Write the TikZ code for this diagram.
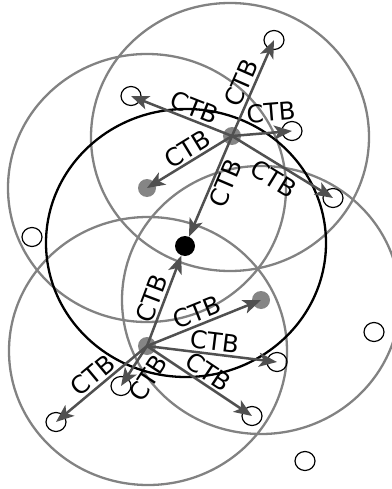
\documentclass[tikz,border=0pt]{standalone}
\usepackage{fontspec}
\setmainfont{DejaVu Sans}
\usetikzlibrary{arrows.meta,shapes.geometric}
\definecolor{ringgray}{HTML}{828282}
\definecolor{arrgray}{HTML}{505050}
\definecolor{dotgray}{HTML}{858585}
\begin{document}
\begin{tikzpicture}[x=1pt,y=-1pt,
  ring/.style={draw=ringgray,line width=2.3pt},
  blackring/.style={draw=black,line width=2.3pt},
  hollow/.style={draw=black,line width=1.2pt,ellipse,minimum width=20pt,minimum height=19pt,inner sep=0pt},
  graydot/.style={fill=dotgray,circle,minimum size=18pt,inner sep=0pt},
  blackdot/.style={fill=black,circle,minimum size=20pt,inner sep=0pt},
  arr/.style={draw=arrgray,line width=2.5pt,-{Stealth[length=18pt,width=14pt,inset=4.5pt]}},
  lbl/.style={font=\fontsize{24.5}{24.5}\selectfont,inner sep=2pt,sloped,text=black}
]
\useasboundingbox (0,0) rectangle (391,489);
% positions
\coordinate (pT) at (232,136);
\coordinate (pS) at (147,346);
\coordinate (pG1) at (147,188);
\coordinate (pG2) at (261,300);
\coordinate (pB) at (185,246);
% big rings
\draw[ring] (230,137) ellipse [x radius=139pt, y radius=134pt];
\draw[ring] (pG1) ellipse [x radius=139pt, y radius=134pt];
\draw[ring] (pG2) ellipse [x radius=139pt, y radius=134pt];
\draw[ring] (148,351) ellipse [x radius=139pt, y radius=134pt];
\draw[blackring] (186,243) ellipse [x radius=140pt, y radius=134pt];
% nodes
\node[graydot] (t) at (pT) {};
\node[graydot] (s) at (pS) {};
\node[graydot] (g1) at (pG1) {};
\node[graydot] (g2) at (pG2) {};
\node[blackdot] (b) at (pB) {};
\node[hollow] (a1) at (274,40) {};
\node[hollow] (a2) at (131,96) {};
\node[hollow] (a3) at (292,131) {};
\node[hollow] (a4) at (333,198) {};
\node[hollow] (a5) at (277,362) {};
\node[hollow] (a6) at (252,416) {};
\node[hollow] (a7) at (121,386) {};
\node[hollow] (a8) at (56,422) {};
\node[hollow] (a9) at (32,237) {};
\node[hollow] (a10) at (374,332) {};
\node[hollow] (a11) at (305,461) {};
% arrows from t
\draw[arr] (t.center) -- (a1.center) node[lbl,pos=0.5,above] {CTB};
\draw[arr] (t.center) -- (a2.center) node[lbl,pos=0.42,above] {CTB};
\draw[arr] (t.center) -- (a3.center) node[lbl,pos=0.68,above=8pt] {CTB};
\draw[arr] (t.center) -- (a4.center) node[lbl,pos=0.49,below=2pt] {CTB};
\draw[arr] (t.center) -- (g1.center) node[lbl,pos=0.45,above] {CTB};
\draw[arr] (t.center) -- (b) node[lbl,pos=0.42,below] {CTB};
% arrows from s
\draw[arr] (s.center) -- (b) node[lbl,pos=0.48,above] {CTB};
\draw[arr] (s.center) -- (g2.center) node[lbl,pos=0.48,above] {CTB};
\draw[arr] (s.center) -- (a5.center) node[lbl,pos=0.51,above] {CTB};
\draw[arr] (s.center) -- (a6.center) node[lbl,pos=0.52,above] {CTB};
\draw[arr] (s.center) -- (a7.center) node[lbl,pos=0.55,below=6pt] {CTB};
\draw[arr] (s.center) -- (a8.center) node[lbl,pos=0.51,above] {CTB};
\end{tikzpicture}
\end{document}
